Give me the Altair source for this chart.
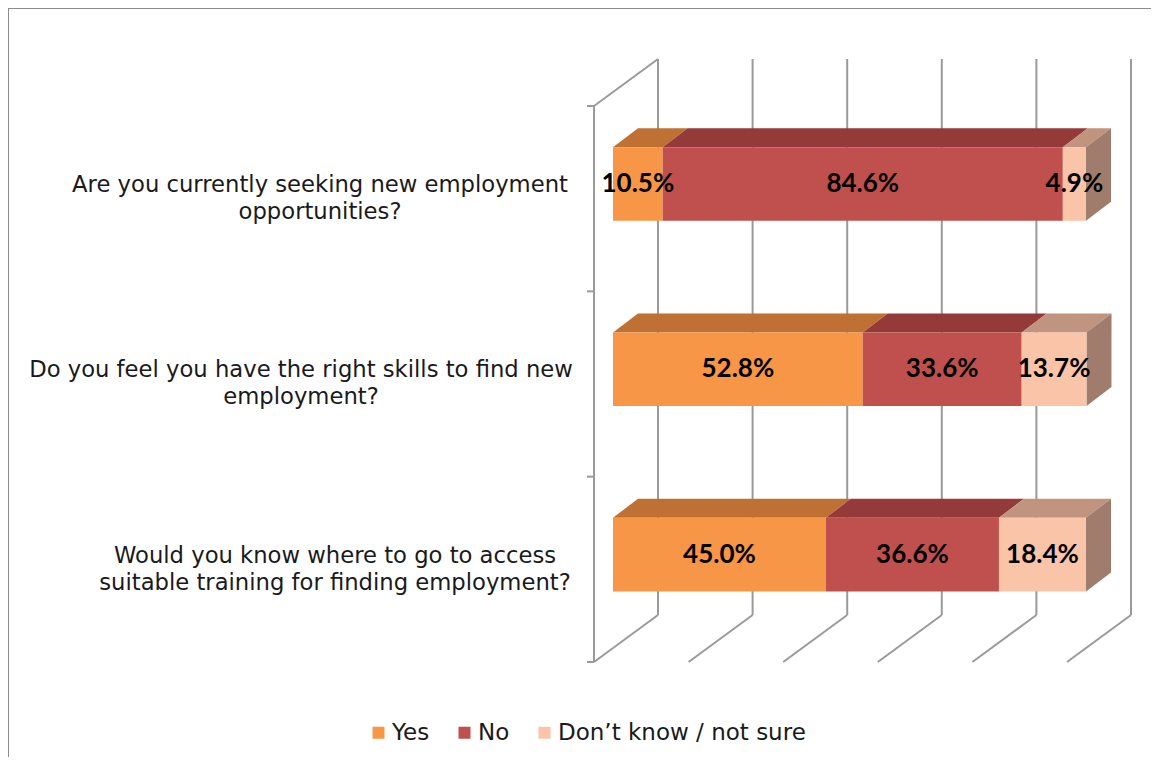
import altair as alt
import pandas as pd

# ---------------- data ----------------
questions = [
    "Are you currently seeking new employment\nopportunities?",
    "Do you feel you have the right skills to find new\nemployment?",
    "Would you know where to go to access\nsuitable training for finding employment?",
]
responses = ["Yes", "No", "Don’t know / not sure"]
yes_pct = [10.5, 52.8, 45.0]
no_pct = [84.6, 33.6, 36.6]
dk_pct = [4.9, 13.7, 18.4]
grid_ticks = [0, 20, 40, 60, 80, 100]

# ---------------- styles / layout ----------------
front_col = ["#F79646", "#C0504D", "#FAC4A8"]
top_col = ["#BE7133", "#943B3A", "#C0947F"]
side_col = ["#B56A2F", "#8C3837", "#A07C6C"]
grid_col = "#9A9A9A"
text_col = "#1A1A1A"

W, H = 1143, 749
PX_PER_PCT = 4.73
X0 = 605.0          # plot pixel of 0 % on the bar front plane (page 613)
ROW = 185.33        # pixels per category row
Y0 = 98.0           # plot pixel of top of first row
FACE_TOP, FACE_BOT = 0.222, 0.619
BAR_DX = 25 / PX_PER_PCT      # bar depth (in % units)
BAR_DY = 19 / ROW             # bar depth (in row units)
FLOOR_FRONT = -19 / PX_PER_PCT
WALL_DX = 64 / PX_PER_PCT
WALL_DY = 47 / ROW
N = len(questions)
LINE_H = 27
label_center_px = [320, 301, 335]   # page x of the centre of each category label block

xs = alt.Scale(domain=[-X0 / PX_PER_PCT, (W - X0) / PX_PER_PCT], nice=False, zero=False)
ys = alt.Scale(domain=[-Y0 / ROW, (H - Y0) / ROW], nice=False, zero=False, reverse=True)

# ---------------- derived tables ----------------
front_rows, top_rows, side_rows = [], [], []
series = [yes_pct, no_pct, dk_pct]
for k in range(N):
    start = 0.0
    for j, resp in enumerate(responses):
        v = series[j][k]
        end = start + v
        ut, ub = k + FACE_TOP, k + FACE_BOT
        seg = f"{k}-{j}"
        front_rows.append(dict(q=k, resp=resp, x=start, x2=end, y=ut, y2=ub,
                               mid=(start + end) / 2, ym=(ut + ub) / 2,
                               lab=f"{v:.1f}%"))
        top_rows.append(dict(seg=seg, col=top_col[j], y=ut, x=start, x2=end))
        top_rows.append(dict(seg=seg, col=top_col[j], y=ut - BAR_DY,
                             x=start + BAR_DX, x2=end + BAR_DX))
        if j == len(responses) - 1:
            side_rows.append(dict(seg=seg, col=side_col[j], x=end, y=ut, y2=ub))
            side_rows.append(dict(seg=seg, col=side_col[j], x=end + BAR_DX,
                                  y=ut - BAR_DY, y2=ub - BAR_DY))
        start = end

front_df = pd.DataFrame(front_rows)
top_df = pd.DataFrame(top_rows)
side_df = pd.DataFrame(side_rows)

back_grid = pd.DataFrame(dict(x=[t + FLOOR_FRONT + WALL_DX for t in grid_ticks],
                              y=-WALL_DY, y2=N - WALL_DY))
floor_grid = pd.DataFrame(dict(x=[t + FLOOR_FRONT for t in grid_ticks],
                               x2=[t + FLOOR_FRONT + WALL_DX for t in grid_ticks],
                               y=float(N), y2=N - WALL_DY))
wall_lines = pd.DataFrame(dict(
    x=[FLOOR_FRONT, FLOOR_FRONT],
    x2=[FLOOR_FRONT, FLOOR_FRONT + WALL_DX],
    y=[0.0, 0.0], y2=[float(N), -WALL_DY]))
wall_ticks = pd.DataFrame(dict(x=FLOOR_FRONT - 7 / PX_PER_PCT, x2=FLOOR_FRONT,
                               y=[float(i) for i in range(N + 1)]))
cat_df = pd.DataFrame(dict(q=questions,
                           x=[(c - (X0 + 8)) / PX_PER_PCT for c in label_center_px],
                           y=[k + 0.5 for k in range(N)]))

# ---------------- layers ----------------
border = alt.Chart(pd.DataFrame({"a": [0]})).mark_rule(color="#8C8C8C", strokeWidth=2)
border_top = border.encode(x=alt.value(0), x2=alt.value(W), y=alt.value(0))
border_left = border.encode(x=alt.value(0), y=alt.value(0), y2=alt.value(H))

back = alt.Chart(back_grid).mark_rule(color=grid_col, strokeWidth=2).encode(
    x=alt.X("x:Q", scale=xs, axis=None),
    y=alt.Y("y:Q", scale=ys, axis=None), y2="y2:Q")
floor = alt.Chart(floor_grid).mark_rule(color=grid_col, strokeWidth=2).encode(
    x=alt.X("x:Q", scale=xs, axis=None), x2="x2:Q",
    y=alt.Y("y:Q", scale=ys, axis=None), y2="y2:Q")
wall = alt.Chart(wall_lines).mark_rule(color=grid_col, strokeWidth=2).encode(
    x=alt.X("x:Q", scale=xs, axis=None), x2="x2:Q",
    y=alt.Y("y:Q", scale=ys, axis=None), y2="y2:Q")
ticks = alt.Chart(wall_ticks).mark_rule(color=grid_col, strokeWidth=2).encode(
    x=alt.X("x:Q", scale=xs, axis=None), x2="x2:Q",
    y=alt.Y("y:Q", scale=ys, axis=None))

tops = alt.Chart(top_df).mark_area(orient="horizontal", interpolate="linear").encode(
    y=alt.Y("y:Q", scale=ys, axis=None),
    x=alt.X("x:Q", scale=xs, axis=None), x2="x2:Q",
    detail="seg:N",
    color=alt.Color("col:N", scale=None))
sides = alt.Chart(side_df).mark_area(orient="vertical", interpolate="linear").encode(
    x=alt.X("x:Q", scale=xs, axis=None),
    y=alt.Y("y:Q", scale=ys, axis=None), y2="y2:Q",
    detail="seg:N",
    color=alt.Color("col:N", scale=None))

fronts = alt.Chart(front_df).mark_rect().encode(
    x=alt.X("x:Q", scale=xs, axis=None), x2="x2:Q",
    y=alt.Y("y:Q", scale=ys, axis=None), y2="y2:Q",
    color=alt.Color("resp:N",
                    scale=alt.Scale(domain=responses, range=front_col),
                    sort=responses,
                    legend=alt.Legend(orient="none", direction="horizontal",
                                      legendX=359, legendY=713, title=None,
                                      symbolType="square", symbolSize=144,
                                      symbolStrokeWidth=0, labelFontSize=23,
                                      labelFont="DejaVu Sans", labelColor=text_col,
                                      labelLimit=0, columnPadding=23,
                                      labelOffset=2, padding=0)))

values = alt.Chart(front_df).mark_text(font="Lato", fontWeight="bold", fontSize=26,
                                       color="#000000", baseline="middle",
                                       align="center").encode(
    x=alt.X("mid:Q", scale=xs, axis=None),
    y=alt.Y("ym:Q", scale=ys, axis=None),
    text="lab:N")

cats = alt.Chart(cat_df).mark_text(font="DejaVu Sans", fontSize=22.7, color=text_col,
                                   align="center", baseline="middle",
                                   lineBreak="\n", lineHeight=LINE_H,
                                   dy=-LINE_H / 2).encode(
    x=alt.X("x:Q", scale=xs, axis=None),
    y=alt.Y("y:Q", scale=ys, axis=None),
    text="q:N")

chart = alt.layer(border_top, border_left, back, floor, wall, ticks,
                  tops, sides, fronts, values, cats).properties(
    width=W, height=H, padding=0,
    autosize=alt.AutoSizeParams(type="none"),
    background="white",
).configure_view(stroke=None)

chart.save("out.html", embed_options={"renderer": "svg", "actions": False})
